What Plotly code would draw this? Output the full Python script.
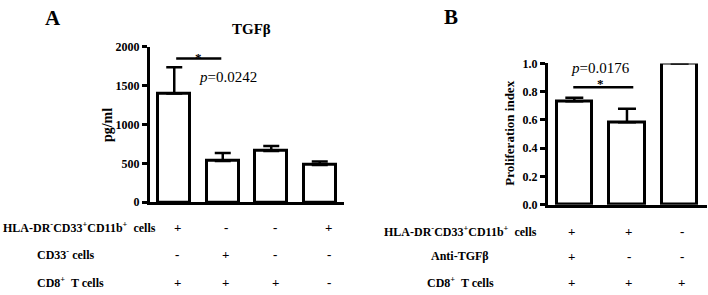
import plotly.graph_objects as go

# ---------------- data ----------------
a_categories = [0, 1, 2, 3]
a_values = [1400, 530, 660, 480]
a_err_up = [335, 105, 65, 45]
a_yticks = [0, 500, 1000, 1500, 2000]
a_title = "TGFβ"
a_ylabel = "pg/ml"
a_pvalue = "<i>p</i>=0.0242"
a_row_labels = ["HLA-DR<sup>-</sup>CD33<sup>+</sup>CD11b<sup>+</sup>&nbsp; cells",
                "CD33<sup>-</sup> cells",
                "CD8<sup>+</sup>&nbsp; T cells"]
a_row_signs = [["+", "-", "-", "+"],
               ["-", "+", "-", "-"],
               ["+", "+", "+", "-"]]

b_categories = [0, 1, 2]
b_values = [0.732, 0.584, 1.0]
b_err_up = [0.026, 0.095, 0.0]
b_yticks = [0.0, 0.2, 0.4, 0.6, 0.8, 1.0]
b_ytick_text = ["0.0", "0.2", "0.4", "0.6", "0.8", "1.0"]
b_ylabel = "Proliferation index"
b_pvalue = "<i>p</i>=0.0176"
b_row_labels = ["HLA-DR<sup>-</sup>CD33<sup>+</sup>CD11b<sup>+</sup>&nbsp; cells",
                "Anti-TGFβ",
                "CD8<sup>+</sup>&nbsp; T cells"]
b_row_signs = [["+", "+", "-"],
               ["+", "-", "-"],
               ["+", "+", "+"]]

# ---------------- layout helpers ----------------
W, H = 708, 295
SERIF = "Liberation Serif"


def px(x):
    return x / W


def py(y):
    return 1 - y / H


fig = go.Figure()

fig.add_trace(go.Bar(
    x=a_categories, y=a_values, width=0.66,
    marker=dict(color="white", line=dict(color="black", width=3)),
    error_y=dict(type="data", symmetric=False, array=a_err_up,
                 arrayminus=[0] * len(a_err_up), color="black",
                 thickness=2.5, width=8),
    xaxis="x", yaxis="y", showlegend=False, hoverinfo="skip"))

fig.add_trace(go.Bar(
    x=b_categories, y=b_values, width=0.67,
    marker=dict(color="white", line=dict(color="black", width=3)),
    error_y=dict(type="data", symmetric=False, array=b_err_up,
                 arrayminus=[0] * len(b_err_up), color="black",
                 thickness=2.5, width=9),
    xaxis="x2", yaxis="y2", showlegend=False, hoverinfo="skip"))

tickfont = dict(family=SERIF, size=12, color="black", weight="bold")

xcommon = dict(showline=True, linecolor="black", linewidth=3, showticklabels=False,
               ticks="", showgrid=False, zeroline=False, fixedrange=True)
ycommon = dict(showline=True, linecolor="black", linewidth=3, ticks="outside",
               ticklen=5, tickwidth=2.5, tickcolor="black", tickfont=tickfont,
               showgrid=False, zeroline=False, fixedrange=True)

fig.update_layout(
    width=W, height=H,
    margin=dict(l=0, r=0, t=0, b=0),
    paper_bgcolor="white", plot_bgcolor="white",
    bargap=0,
    font=dict(family=SERIF, color="black"),
    xaxis=dict(domain=[px(150), px(344)], range=[-0.5, 3.5], anchor="y", **xcommon),
    yaxis=dict(domain=[py(205), py(41.7)], range=[0, 2000], anchor="x",
               tickvals=a_yticks, **ycommon),
    xaxis2=dict(domain=[px(548), px(707)], range=[-0.5, 2.52], anchor="y2", **xcommon),
    yaxis2=dict(domain=[py(207.5), py(59.3)], range=[0, 1], anchor="x2",
                tickvals=b_yticks, ticktext=b_ytick_text, **ycommon),
)

anns = []
shapes = []


def ann(**kw):
    kw.setdefault("xanchor", "center")
    kw.setdefault("yanchor", "middle")
    kw.setdefault("showarrow", False)
    anns.append(kw)


# panel letters and title
ann(text="<b>A</b>", x=px(53), y=py(12), xref="paper", yref="paper",
    font=dict(family=SERIF, size=21, color="black"))
ann(text="<b>B</b>", x=px(451), y=py(11), xref="paper", yref="paper",
    font=dict(family=SERIF, size=21, color="black"))
ann(text="<b>%s</b>" % a_title, x=px(251), y=py(23), xref="paper", yref="paper",
    font=dict(family=SERIF, size=15, color="black"))

# y-axis titles
ann(text="<b>%s</b>" % a_ylabel, x=px(107), y=py(124), xref="paper", yref="paper",
    textangle=-90, font=dict(family=SERIF, size=14, color="black"))
ann(text="<b>%s</b>" % b_ylabel, x=px(510), y=py(133), xref="paper", yref="paper",
    textangle=-90, font=dict(family=SERIF, size=13, color="black"))

# significance A
shapes.append(dict(type="line", xref="x", yref="y", x0=0.04, x1=0.97, y0=1850, y1=1850,
                   line=dict(color="black", width=2.5)))
ann(text="<b>*</b>", x=0.5, y=1850, xref="x", yref="y", yshift=1,
    font=dict(family=SERIF, size=13, color="black"))
ann(text=a_pvalue, x=0.46, y=1615, xref="x", yref="y", xanchor="left",
    font=dict(family=SERIF, size=15, color="black"))

# significance B
shapes.append(dict(type="line", xref="x2", yref="y2", x0=-0.02, x1=1.12, y0=0.832, y1=0.832,
                   line=dict(color="black", width=2.5)))
ann(text="<b>*</b>", x=0.49, y=0.86, xref="x2", yref="y2",
    font=dict(family=SERIF, size=13, color="black"))
ann(text=b_pvalue, x=0.49, y=0.97, xref="x2", yref="y2",
    font=dict(family=SERIF, size=15, color="black"))

# tables
rowfont = dict(family=SERIF, size=12, color="black")
signfont = dict(family=SERIF, size=13, color="black")

a_row_y = [231.7, 260, 289.3]
a_label_x = [1, 35, 35]
a_sign_shift = [3, 3, 4, 9]
for r, (lab, signs) in enumerate(zip(a_row_labels, a_row_signs)):
    ann(text="<b>%s</b>" % lab, x=px(a_label_x[r]), y=py(a_row_y[r]),
        xref="paper", yref="paper", xanchor="left", font=rowfont)
    for i, s in enumerate(signs):
        ann(text="<b>%s</b>" % s, x=a_categories[i], y=py(a_row_y[r]),
            xref="x", yref="paper", xshift=a_sign_shift[i], font=signfont)

b_row_y = [236, 261.7, 289.3]
b_sign_shift = [-3, 2, 2]
for r, (lab, signs) in enumerate(zip(b_row_labels, b_row_signs)):
    ann(text="<b>%s</b>" % lab, x=px(460), y=py(b_row_y[r]),
        xref="paper", yref="paper", font=rowfont)
    for i, s in enumerate(signs):
        ann(text="<b>%s</b>" % s, x=b_categories[i], y=py(b_row_y[r]),
            xref="x2", yref="paper", xshift=b_sign_shift[i], font=signfont)

fig.update_layout(annotations=anns, shapes=shapes)

fig.write_html("out.html",
               config={"displayModeBar": False},
               post_script="document.body.style.margin='0';document.body.style.overflow='hidden';")
